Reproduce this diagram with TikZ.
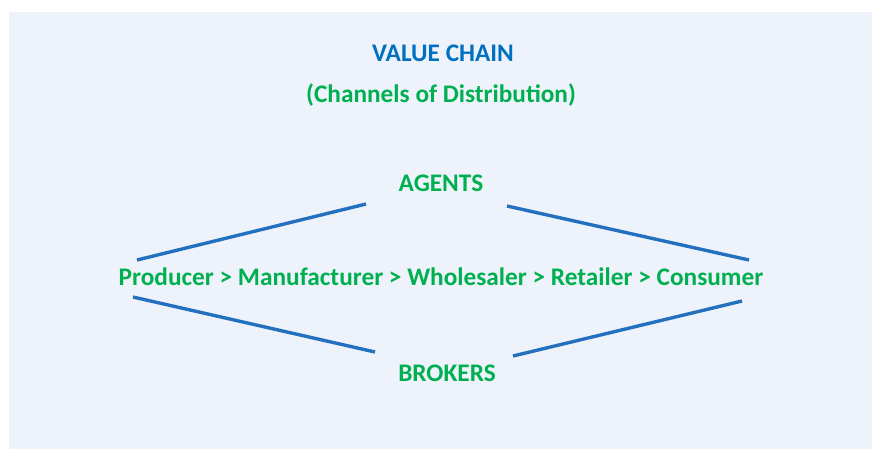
\documentclass[tikz,border=0pt]{standalone}
\usepackage{fontspec}
\setmainfont{Carlito}
\usetikzlibrary{positioning,calc}
\definecolor{chainblue}{RGB}{0,112,192}
\definecolor{linkblue}{RGB}{34,112,190}
\definecolor{chaingreen}{RGB}{0,176,80}
\definecolor{bgcol}{RGB}{238,243,251}

\begin{document}
\begin{tikzpicture}[x=0.025cm,y=-0.025cm]
\tikzstyle{title}=[text=chainblue,font=\fontsize{18}{21}\selectfont\bfseries];
\tikzstyle{lbl}=[text=chaingreen,font=\fontsize{18}{21}\selectfont\bfseries];
\tikzstyle{link}=[draw=linkblue,line width=2.4pt];

\useasboundingbox (0,0) rectangle (872,449);
\fill[bgcol] (9,12) rectangle (872,449);

\node[title] (title) at (443,53) {VALUE CHAIN};
\node[lbl] (sub) at (441,95) {(Channels of Distribution)};

\node[lbl] (agents) at (441,183) {AGENTS};
\node[lbl] (chain) at (441,277) {Producer > Manufacturer > Wholesaler > Retailer > Consumer};
\node[lbl] (brokers) at (447,373) {BROKERS};

% line ends
\coordinate (al) at (366,204);
\coordinate (ar) at (507,206);
\coordinate (bl) at (375,352);
\coordinate (br) at (513,356);
\coordinate (cnw) at (137,260);
\coordinate (cne) at (749,260);
\coordinate (csw) at (133,297);
\coordinate (cse) at (742,301);

\draw[link] (cnw) -- (al);
\draw[link] (ar) -- (cne);
\draw[link] (csw) -- (bl);
\draw[link] (br) -- (cse);

\end{tikzpicture}
\end{document}
